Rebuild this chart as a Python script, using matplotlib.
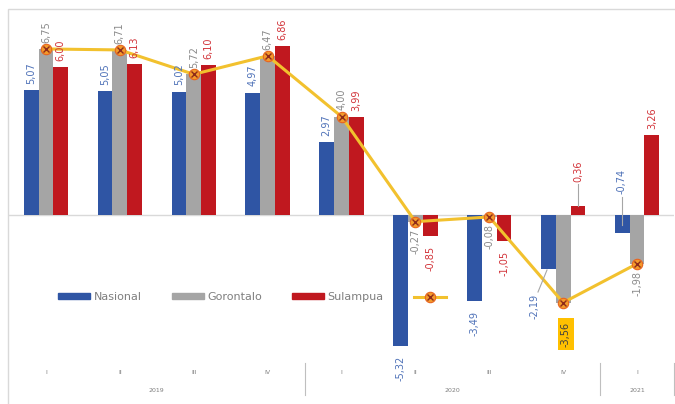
import matplotlib
matplotlib.use("Agg")
import matplotlib.pyplot as plt
from matplotlib.patches import Rectangle, Patch
from matplotlib.lines import Line2D
import numpy as np

quarters = ["I", "II", "III", "IV", "I", "II", "III", "IV", "I"]
years = ["2019", "2020", "2021"]
year_spans = [(0, 3), (4, 7), (8, 8)]
nasional = [5.07, 5.05, 5.02, 4.97, 2.97, -5.32, -3.49, -2.19, -0.74]
gorontalo = [6.75, 6.71, 5.72, 6.47, 4.00, -0.27, -0.08, -3.56, -1.98]
sulampua = [6.00, 6.13, 6.10, 6.86, 3.99, -0.85, -1.05, 0.36, 3.26]
series_names = ["Nasional", "Gorontalo", "Sulampua"]

W, H = 675, 404
fig = plt.figure(figsize=(W / 100, H / 100), dpi=100)
ax_top, ax_bot, ax_left, ax_right = 10, 358, 9, 674
ax = fig.add_axes([ax_left / W, 1 - ax_bot / H, (ax_right - ax_left) / W, (ax_bot - ax_top) / H])
ppu = 24.6
zero_px = 215
ax.set_ylim(-(ax_bot - zero_px) / ppu, (zero_px - ax_top) / ppu)
ax.set_xlim(-0.5, len(quarters) - 0.5)
ax.axis("off")

def ay(px):
    return (ax_bot - px) / (ax_bot - ax_top)

# chart border
fig.patches.append(Rectangle((8 / W, -0.02), 1.0, 1 - 9 / H + 0.02, transform=fig.transFigure,
                             fill=False, edgecolor="#D9D9D9", lw=1.0))

bar_cols = ["#2F55A4", "#A5A5A5", "#C0181F"]
lab_cols = ["#4F72B8", "#8A8A8A", "#D2343A"]
x = np.arange(len(quarters))
bw = 0.2
offs = [-bw, 0, bw]
data = [nasional, gorontalo, sulampua]

ax.axhline(0, color="#D9D9D9", lw=1.0, zorder=1)
for k in range(3):
    ax.bar(x + offs[k], data[k], width=bw, color=bar_cols[k], zorder=2)

# line on Gorontalo values
ax.plot(x, gorontalo, color="#F2C12E", lw=2.2, zorder=3)
ax.plot(x, gorontalo, ls="none", marker="o", ms=7.5, mfc="#F39A2B", mec="#E8641E", mew=0.8, zorder=4)
ax.plot(x, gorontalo, ls="none", marker="x", ms=4, mec="#8E2A1A", mew=1.0, zorder=5)

def fmt(v):
    return f"{v:.2f}".replace(".", ",")

special = {(0, 7), (1, 7), (2, 7), (0, 8)}
for k in range(3):
    for i, v in enumerate(data[k]):
        if (k, i) in special:
            continue
        if v >= 0:
            ax.annotate(fmt(v), (x[i] + offs[k], v), xytext=(0, 4.5), textcoords="offset points",
                        rotation=90, ha="center", va="bottom", fontsize=7, color=lab_cols[k], zorder=6)
        else:
            off = -5 if k == 1 else -7
            ax.annotate(fmt(v), (x[i] + offs[k], v), xytext=(0, off), textcoords="offset points",
                        rotation=90, ha="center", va="top", fontsize=7, color=lab_cols[k], zorder=6)

def dv(px):
    return (zero_px - px) / ppu

def dx(px):
    return (px - ax_left) / (ax_right - ax_left) * len(quarters) - 0.5

# Nasional 2020 IV with leader
ax.plot([dx(547), dx(538)], [dv(270), dv(292)], color="#A6A6A6", lw=0.8, zorder=5)
ax.text(dx(535), dv(306), fmt(nasional[7]), rotation=90, ha="center", va="center", fontsize=7,
        color=lab_cols[0], zorder=6)
# Gorontalo 2020 IV highlighted
ax.text(dx(566), dv(334), fmt(gorontalo[7]), rotation=90, ha="center", va="center", fontsize=7,
        color="#404040", zorder=6,
        bbox=dict(boxstyle="square,pad=0.35", fc="#FFC000", ec="none"))
# Sulampua 2020 IV with leader
ax.plot([dx(578), dx(578)], [dv(206), dv(184)], color="#A6A6A6", lw=0.8, zorder=5)
ax.text(dx(578), dv(182), fmt(sulampua[7]), rotation=90, ha="center", va="bottom", fontsize=7,
        color=lab_cols[2], zorder=6)
# Nasional 2021 I with leader
ax.plot([dx(622), dx(622)], [dv(225), dv(197)], color="#A6A6A6", lw=0.8, zorder=5)
ax.text(dx(622), dv(194), fmt(nasional[8]), rotation=90, ha="center", va="bottom", fontsize=7,
        color=lab_cols[0], zorder=6)

# category axis
tr = ax.get_xaxis_transform()
for i, q in enumerate(quarters):
    ax.text(i, ay(373), q, transform=tr, ha="center", va="center", fontsize=4.5, color="#7F7F7F")
for yname, (a, b) in zip(years, year_spans):
    ax.text((a + b) / 2, ay(390), yname, transform=tr, ha="center", va="center", fontsize=4.5,
            color="#7F7F7F")
for sx in [3.5, 7.5, 8.5]:
    ax.plot([sx, sx], [ay(363), ay(395)], transform=tr, color="#BFBFBF", lw=0.8, clip_on=False)

# legend
handles = [Patch(color=bar_cols[0]), Patch(color=bar_cols[1]), Patch(color=bar_cols[2]),
           (Line2D([], [], color="#F2C12E", lw=2.2, marker="o", ms=7.5, mfc="#F39A2B", mec="#E8641E", mew=0.8),
            Line2D([], [], ls="none", marker="x", ms=4, mec="#8E2A1A", mew=1.0))]
labels = series_names + [""]
fig.legend(handles, labels, loc="center left", bbox_to_anchor=(58 / W, 1 - 297 / H), ncol=4,
           frameon=False, fontsize=8, handlelength=2.9, handleheight=0.45, handletextpad=0.3,
           columnspacing=2.7, borderpad=0, borderaxespad=0, labelcolor="#7F7F7F")

fig.savefig("out.png", dpi=100)
